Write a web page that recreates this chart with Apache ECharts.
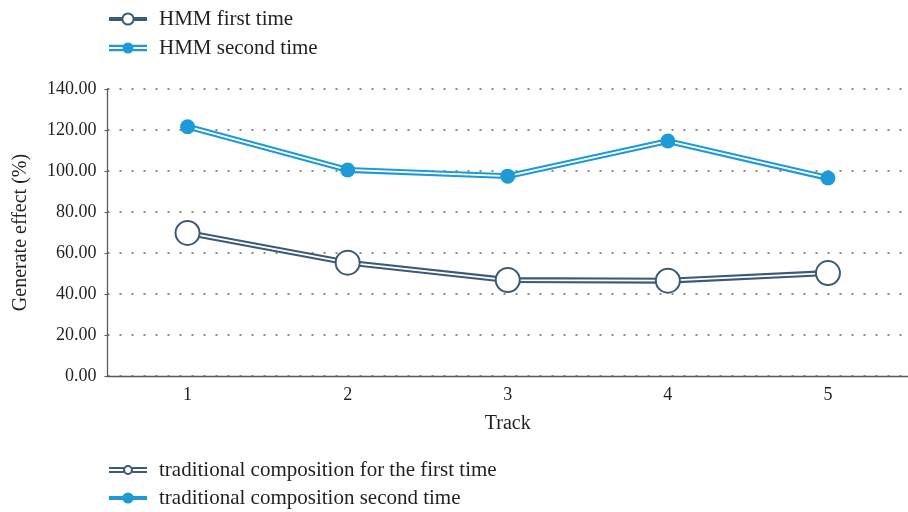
<!DOCTYPE html>
<html>
<head>
<meta charset="utf-8">
<script src="https://cdn.jsdelivr.net/npm/echarts@6/dist/echarts.min.js"></script>
<style>
  html, body { margin: 0; padding: 0; background: #fff; }
  #chart { width: 908px; height: 512px; }
</style>
</head>
<body>
<div id="chart"></div>
<script>
// Tracks on the horizontal axis
const tracks = ['1', '2', '3', '4', '5'];

// Generate effect (%) per track
const hmmFirst = [69.8, 55.3, 46.8, 46.5, 50.2];
const tradFirst = [69.8, 55.3, 46.8, 46.5, 50.2];
const hmmSecond = [121.6, 100.5, 97.5, 114.6, 96.6];
const tradSecond = [121.6, 100.5, 97.5, 114.6, 96.6];

// Value axis range
const yMin = 0;
const yMax = 140;
const yStep = 20;

const DARK = '#3c5a77';
const BLUE = '#1e9bd7';
const TEXT = '#231f20';
const AXIS = '#5a5a5a';
const FONT = "'Liberation Serif', 'DejaVu Serif', serif";

// Legend icons for the double-stroke series (38 x 14 box)
const doubleDotIcon = 'path://M0 3.8H38V5.9H0Z M0 8.1H38V10.2H0Z M13.5 7A5.5 5.5 0 1 1 24.5 7A5.5 5.5 0 1 1 13.5 7Z';
const doubleRingIcon = 'path://M0 4H14.5V6H0Z M0 8H14.5V10H0Z M23.5 4H38V6H23.5Z M23.5 8H38V10H23.5Z ' +
  'M14 7A5 5 0 1 1 24 7A5 5 0 1 1 14 7Z M16.1 7A2.9 2.9 0 1 0 21.9 7A2.9 2.9 0 1 0 16.1 7Z';

const legendBase = {
  orient: 'vertical',
  left: 107,
  padding: 0,
  itemWidth: 38,
  itemHeight: 14,
  selectedMode: false,
  lineStyle: { width: 4 },
  textStyle: { fontFamily: FONT, fontSize: 21, color: TEXT, lineHeight: 21, padding: [0, 0, 0, 7] }
};

const chart = echarts.init(document.getElementById('chart'), null, { renderer: 'canvas' });

chart.setOption({
  animation: false,
  backgroundColor: '#fff',
  legend: [
    Object.assign({}, legendBase, {
      top: 8.5,
      itemGap: 8,
      data: [
        { name: 'HMM first time' },
        { name: 'HMM second time', icon: doubleDotIcon, itemStyle: { color: BLUE, borderWidth: 0 } }
      ]
    }),
    Object.assign({}, legendBase, {
      top: 459.5,
      itemGap: 7,
      data: [
        { name: 'traditional composition for the first time', icon: doubleRingIcon, itemStyle: { color: DARK, borderWidth: 0 } },
        { name: 'traditional composition second time' }
      ]
    })
  ],
  grid: { left: 107.5, right: -4.5, top: 89, bottom: 136, containLabel: false },
  xAxis: {
    type: 'category',
    data: tracks,
    boundaryGap: true,
    name: 'Track',
    nameLocation: 'middle',
    nameGap: 38,
    nameTextStyle: { fontFamily: FONT, fontSize: 20, color: TEXT },
    axisLine: { lineStyle: { color: AXIS, width: 1.3 } },
    axisTick: { show: false },
    axisLabel: { fontFamily: FONT, fontSize: 18, color: TEXT, margin: 10 },
    splitLine: { show: false }
  },
  yAxis: {
    type: 'value',
    min: yMin,
    max: yMax,
    interval: yStep,
    name: 'Generate effect (%)',
    nameLocation: 'middle',
    nameRotate: 90,
    nameGap: 77,
    nameTextStyle: { fontFamily: FONT, fontSize: 20, color: TEXT },
    axisLine: { show: true, lineStyle: { color: AXIS, width: 1.3 } },
    axisTick: { show: true, length: 3, lineStyle: { color: AXIS, width: 1 } },
    axisLabel: {
      fontFamily: FONT, fontSize: 18, color: TEXT, margin: 11,
      formatter: v => v.toFixed(2)
    },
    splitLine: { show: true, lineStyle: { color: '#8a8a8a', width: 2, type: [2, 10] } }
  },
  series: [
    {
      name: 'HMM first time',
      type: 'line',
      data: hmmFirst,
      z: 2,
      symbol: 'emptyCircle',
      showSymbol: false,
      itemStyle: { color: DARK },
      lineStyle: { color: DARK, width: 4 }
    },
    {
      name: 'traditional composition second time',
      type: 'line',
      data: tradSecond,
      z: 2,
      symbol: 'circle',
      showSymbol: false,
      itemStyle: { color: BLUE },
      lineStyle: { color: BLUE, width: 4 }
    },
    {
      name: 'traditional composition for the first time',
      type: 'line',
      data: tradFirst,
      z: 3,
      symbol: 'emptyCircle',
      showSymbol: false,
      itemStyle: { color: DARK },
      lineStyle: { color: DARK, width: 6 }
    },
    {
      name: 'HMM second time',
      type: 'line',
      data: hmmSecond,
      z: 3,
      symbol: 'circle',
      showSymbol: false,
      itemStyle: { color: BLUE },
      lineStyle: { color: BLUE, width: 6 }
    },
    // inner white stroke of the double lines, carrying the markers on top
    {
      name: 'first-inner',
      type: 'line',
      data: tradFirst,
      z: 4,
      symbol: 'emptyCircle',
      symbolSize: 24,
      showAllSymbol: true,
      itemStyle: { color: DARK, borderWidth: 3.4 },
      lineStyle: { color: '#fff', width: 1.8 }
    },
    {
      name: 'second-inner',
      type: 'line',
      data: hmmSecond,
      z: 4,
      symbol: 'circle',
      symbolSize: 15,
      showAllSymbol: true,
      itemStyle: { color: BLUE },
      lineStyle: { color: '#fff', width: 1.8 }
    }
  ]
});
</script>
</body>
</html>
